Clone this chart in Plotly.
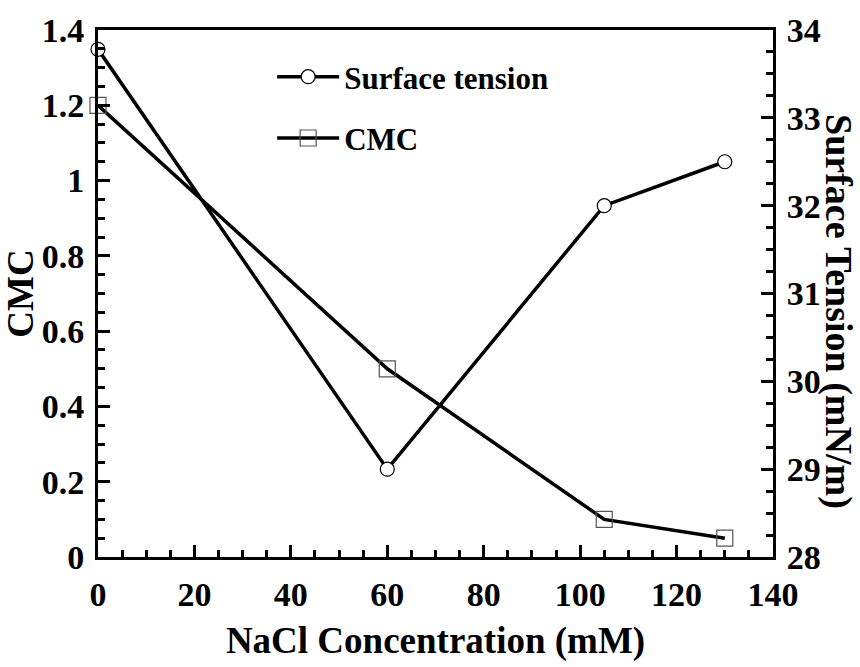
import plotly.graph_objects as go

nacl_mM = [0, 60, 105, 130]
cmc_values = [1.2, 0.5, 0.1, 0.05]
surface_tension = [33.78, 29.0, 32.0, 32.5]

FONT = "Liberation Serif"

fig = go.Figure()

fig.add_trace(go.Scatter(
    x=nacl_mM, y=surface_tension, yaxis="y2", name="Surface tension",
    mode="lines+markers", cliponaxis=False,
    line=dict(color="black", width=3.5),
    marker=dict(symbol="circle", size=14, color="white",
                line=dict(color="black", width=1.2)),
    legendgroup="a",
))
fig.add_trace(go.Scatter(
    x=nacl_mM, y=cmc_values, yaxis="y", name="CMC",
    mode="lines+markers", cliponaxis=False,
    line=dict(color="black", width=3.5),
    marker=dict(symbol="square-open", size=16, color="#555555",
                line=dict(width=1.2)),
    legendgroup="b",
))

axis_common = dict(
    showline=True, linewidth=3, linecolor="black",
    ticks="inside", ticklen=12, tickwidth=2.5, tickcolor="black",
    showgrid=False, zeroline=False,
    tickfont=dict(family=FONT, size=34, color="black", weight="bold"),
)

fig.update_layout(
    width=860, height=667,
    margin=dict(l=96, r=87, t=29, b=96),
    paper_bgcolor="white", plot_bgcolor="white",
    font=dict(family=FONT, size=32, color="black", weight="bold"),
    showlegend=True,
    legend=dict(x=0.258, y=0.962, xanchor="left", yanchor="top",
                bgcolor="rgba(0,0,0,0)", itemwidth=62,
                tracegroupgap=18,
                font=dict(family=FONT, size=31, color="black", weight="bold")),
    xaxis=dict(
        range=[0, 140], dtick=20, tick0=0, mirror=True,
        minor=dict(dtick=5, ticks="inside", ticklen=7, tickwidth=2.5, tickcolor="black"),
        title=dict(text="NaCl Concentration (mM)", standoff=16,
                   font=dict(family=FONT, size=37, color="black", weight="bold")),
        ticklabelstandoff=5,
        **axis_common,
    ),
    yaxis=dict(
        range=[0, 1.4], dtick=0.2, tick0=0,
        minor=dict(dtick=0.05, ticks="inside", ticklen=7, tickwidth=2.5, tickcolor="black"),
        title=dict(text="CMC", standoff=4,
                   font=dict(family=FONT, size=37, color="black", weight="bold")),
        ticklabelstandoff=4,
        **axis_common,
    ),
    yaxis2=dict(
        range=[28, 34], dtick=1, tick0=28, overlaying="y", side="right",
        minor=dict(dtick=0.25, ticks="inside", ticklen=7, tickwidth=2.5, tickcolor="black"),
        ticklabelstandoff=4,
        **axis_common,
    ),
    annotations=[dict(
        text="Surface Tension (mN/m)", textangle=90,
        xref="paper", yref="paper", x=1.0, y=0.5, xanchor="left", yanchor="middle",
        xshift=42, yshift=-18, showarrow=False,
        font=dict(family=FONT, size=38, color="black", weight="bold"),
    )],
)

fig.write_html("out.html")
